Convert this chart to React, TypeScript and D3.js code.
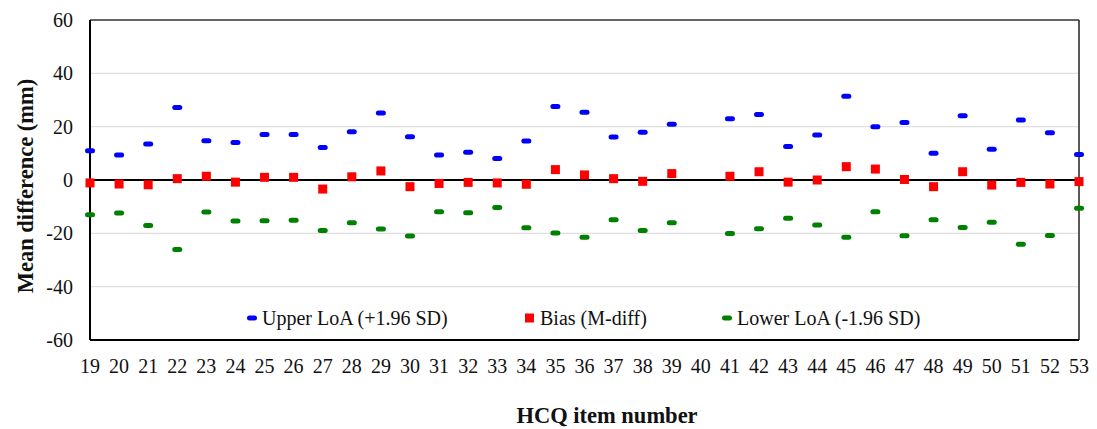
import React from "react";
import * as d3 from "d3";

const items = [19,20,21,22,23,24,25,26,27,28,29,30,31,32,33,34,35,36,37,38,39,40,41,42,43,44,45,46,47,48,49,50,51,52,53];
const upper: (number|null)[] = [11.0,9.4,13.5,27.2,14.7,14.1,17.1,17.1,12.2,18.1,25.1,16.2,9.4,10.4,8.1,14.6,27.6,25.4,16.1,17.9,20.9,null,23.0,24.6,12.6,16.9,31.4,20.0,21.6,10.0,24.1,11.5,22.5,17.7,9.6];
const bias: (number|null)[] = [-1.1,-1.5,-1.8,0.5,1.4,-0.8,1.0,1.0,-3.4,1.2,3.4,-2.5,-1.3,-0.9,-1.1,-1.6,3.9,1.9,0.5,-0.5,2.4,null,1.4,3.1,-0.8,0.0,5.0,4.1,0.2,-2.5,3.1,-1.9,-0.9,-1.5,-0.6];
const lower: (number|null)[] = [-13.0,-12.4,-17.1,-26.1,-12.0,-15.4,-15.3,-15.1,-18.9,-16.0,-18.4,-21.0,-11.9,-12.3,-10.3,-17.9,-19.9,-21.5,-14.9,-18.9,-16.0,null,-20.1,-18.3,-14.3,-16.9,-21.5,-11.9,-20.9,-14.9,-17.8,-15.8,-24.1,-20.8,-10.6];
const yTicks = [-60,-40,-20,0,20,40,60];
const gridTicks = [-40,-20,20,40];
const legendLabels = ["Upper LoA (+1.96 SD)", "Bias (M-diff)", "Lower LoA (-1.96 SD)"];

const W = 1097, H = 429;
const left = 90, right = 1079, top = 20, bottom = 340;
const font = "'Liberation Serif', 'Times New Roman', serif";

export default function App() {
  const x = d3.scalePoint<number>().domain(items).range([left, right]);
  const y = d3.scaleLinear().domain([-60, 60]).range([bottom, top]);

  const dash = (v: number|null, i: number, color: string, key: string) =>
    v === null ? null : (
      <rect key={key + i} x={x(items[i])! - 5} y={y(v) - 2.5} width={10} height={5} rx={2.5} fill={color} />
    );

  return (
    <svg width={W} height={H} style={{ position: "absolute", left: 0, top: 0, background: "#fff" }} fontFamily={font}>
      {gridTicks.map(t => (
        <line key={"g" + t} x1={left} x2={right} y1={y(t)} y2={y(t)} stroke="#e0e0e0" strokeWidth={1.2} />
      ))}
      <line x1={left} x2={right} y1={top} y2={top} stroke="#333" strokeWidth={1.5} />
      <line x1={right} x2={right} y1={top} y2={bottom} stroke="#222" strokeWidth={1.5} />
      <line x1={left} x2={right} y1={y(0)} y2={y(0)} stroke="#000" strokeWidth={2} />
      <line x1={left} x2={right} y1={bottom} y2={bottom} stroke="#000" strokeWidth={2} />
      <line x1={left} x2={left} y1={top} y2={bottom} stroke="#000" strokeWidth={2} />

      {yTicks.map(t => (
        <text key={"yt" + t} x={73} y={y(t)} dy="0.35em" textAnchor="end" fontSize={20} fill="#111">{t}</text>
      ))}
      {items.map(it => (
        <text key={"xt" + it} x={x(it)!} y={373} textAnchor="middle" fontSize={20} fill="#111">{it}</text>
      ))}

      {upper.map((v, i) => dash(v, i, "#0000ff", "u"))}
      {lower.map((v, i) => dash(v, i, "#008000", "l"))}
      {bias.map((v, i) => v === null ? null : (
        <rect key={"b" + i} x={x(items[i])! - 4.5} y={y(v) - 4.5} width={9} height={9} fill="#ff0000" />
      ))}

      <g fontSize={20} fill="#111">
        <rect x={247} y={315.5} width={10} height={5} rx={2.5} fill="#0000ff" />
        <text x={262} y={318} dy="0.35em">{legendLabels[0]}</text>
        <rect x={525} y={313.5} width={9} height={9} fill="#ff0000" />
        <text x={540} y={318} dy="0.35em">{legendLabels[1]}</text>
        <rect x={722} y={315.5} width={10} height={5} rx={2.5} fill="#008000" />
        <text x={737} y={318} dy="0.35em">{legendLabels[2]}</text>
      </g>

      <text transform={`translate(33,186) rotate(-90)`} textAnchor="middle" fontSize={22.5} fontWeight="bold" fill="#111">Mean difference (mm)</text>
      <text x={607} y={423} textAnchor="middle" fontSize={22.5} fontWeight="bold" fill="#111">HCQ item number</text>
    </svg>
  );
}
